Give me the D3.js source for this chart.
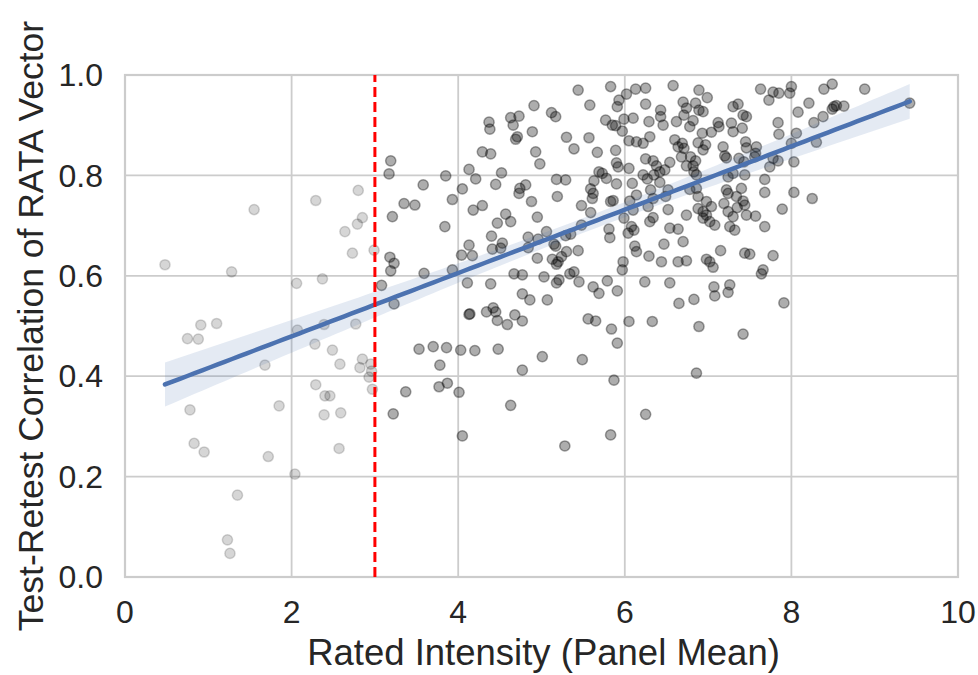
<!DOCTYPE html>
<html>
<head>
<meta charset="utf-8">
<script src="https://cdn.jsdelivr.net/npm/d3@7"></script>
<style>
  body { margin: 0; background: #fff; }
  text { font-family: "Liberation Sans", Arial, sans-serif; fill: #262626; }
</style>
</head>
<body>
<div id="chart"></div>
<script>
// points below the intensity cut-off (drawn faded)
var lowX = [0.48,1.55,1.28,2.29,2.80,2.85,2.79,2.64,2.73,2.99,2.06,2.37,0.91,1.10,0.75,0.88,2.07,2.39,2.77,2.28,
            2.49,2.58,2.85,2.82,2.95,2.96,2.93,2.97,1.68,2.29,2.40,2.46,2.39,2.59,1.85,0.78,0.83,0.95,1.72,2.57,
            2.04,1.35,1.23,1.26];
var lowY = [0.622,0.732,0.608,0.750,0.770,0.716,0.703,0.688,0.645,0.651,0.585,0.594,0.502,0.505,0.475,0.474,0.492,0.503,0.504,0.464,
            0.452,0.424,0.434,0.417,0.424,0.410,0.398,0.374,0.422,0.383,0.361,0.361,0.323,0.327,0.341,0.333,0.266,0.249,0.240,0.256,
            0.205,0.163,0.074,0.047];

// points at or above the cut-off
var highX = [3.19,3.17,3.58,3.35,3.48,3.21,3.18,3.23,3.19,3.08,3.23,3.59,3.53,3.70,3.37,3.22,3.77,3.78,
             4.11,4.39,4.67,4.77,5.03,5.18,5.21,4.77,4.86,5.07,4.13,4.14,4.34,4.42,4.45,4.47,4.59,4.68,4.77,3.86,4.03,4.20,4.48,5.01,4.77,3.87,4.01,4.63,4.05,5.28,5.34,
             5.44,5.83,6.02,6.13,5.93,5.91,5.58,4.91,5.12,5.17,4.63,4.73,4.37,4.38,4.66,5.77,5.85,5.89,5.99,6.10,5.97,4.89,4.71,4.69,5.30,5.57,6.05,6.14,5.39,5.67,
             5.89,4.29,4.39,4.93,4.98,5.90,5.92,6.05,3.85,4.13,4.21,4.52,4.45,4.05,3.93,4.74,4.73,4.81,5.18,5.29,5.69,5.73,5.63,5.78,5.90,6.09,5.59,5.62,5.61,5.19,
             4.88,5.48,5.83,5.86,6.06,6.14,4.18,4.29,4.57,4.95,5.59,5.99,6.10,3.84,4.47,4.63,5.06,5.48,5.81,5.82,6.08,6.11,6.04,4.40,4.84,4.96,5.29,5.35,5.15,4.13,
             4.04,4.17,4.53,4.51,4.41,4.84,5.17,5.44,5.30,6.12,6.14,4.95,5.13,5.20,5.18,5.24,3.93,5.39,5.98,5.97,
             6.58,6.25,6.89,6.99,6.25,6.70,6.85,6.89,6.94,6.74,7.30,7.36,7.42,7.46,6.43,6.43,6.46,6.29,6.71,6.62,6.82,6.78,7.12,7.13,7.28,7.30,7.04,6.93,7.41,6.30,
             6.22,6.60,6.69,6.71,6.64,6.88,6.97,6.94,7.18,7.45,7.46,6.25,6.34,6.38,6.54,6.68,6.79,6.85,6.82,6.74,7.20,7.22,7.37,7.43,6.22,6.35,6.42,6.48,6.27,6.42,
             6.86,6.83,7.30,7.24,7.44,6.31,6.34,6.52,6.49,6.78,6.86,7.22,7.24,7.40,7.34,6.88,6.28,6.52,6.34,6.30,6.74,6.88,6.94,6.98,7.04,6.98,6.94,7.02,7.19,7.24,
             7.30,7.42,7.44,7.35,7.46,7.26,7.32,6.54,6.64,7.08,6.47,6.70,6.29,6.64,6.74,6.98,7.02,7.15,7.44,6.44,
             7.63,7.78,7.85,7.98,8.00,8.39,8.49,8.88,7.73,8.21,8.51,8.54,8.63,8.49,8.08,8.38,8.27,7.84,7.85,8.06,9.42,8.30,8.00,7.58,7.57,7.56,7.78,7.84,8.03,7.74,
             7.68,7.68,8.03,8.25,7.89,7.57,7.68,7.50,7.78,
             5.45,5.62,5.69,5.79,5.91,6.24,6.54,7.06,7.07,7.08,7.26,7.24,6.65,6.83,5.56,5.65,5.84,6.05,6.33,6.89,7.42,5.91,5.49,5.87,6.86,6.25,5.83,
             7.66,7.64,7.91];
var highY = [0.829,0.803,0.781,0.744,0.741,0.718,0.637,0.625,0.610,0.581,0.544,0.605,0.454,0.459,0.369,0.325,0.379,0.422,
             0.586,0.584,0.604,0.602,0.598,0.586,0.592,0.564,0.552,0.552,0.523,0.524,0.528,0.536,0.528,0.511,0.503,0.522,0.510,0.457,0.452,0.451,0.454,0.439,0.412,0.386,0.368,0.342,0.281,0.261,0.604,
             0.970,0.977,0.962,0.972,0.950,0.937,0.940,0.939,0.925,0.917,0.915,0.918,0.906,0.892,0.900,0.910,0.900,0.899,0.912,0.914,0.888,0.887,0.877,0.872,0.876,0.875,0.869,0.867,0.853,0.846,
             0.850,0.847,0.843,0.847,0.823,0.825,0.817,0.814,0.799,0.812,0.793,0.805,0.782,0.773,0.752,0.774,0.764,0.781,0.792,0.791,0.807,0.804,0.789,0.794,0.783,0.784,0.773,0.764,0.754,0.758,
             0.748,0.740,0.748,0.750,0.749,0.761,0.731,0.740,0.723,0.717,0.726,0.715,0.731,0.698,0.705,0.708,0.688,0.701,0.693,0.676,0.698,0.691,0.685,0.679,0.677,0.673,0.680,0.683,0.663,0.661,
             0.641,0.640,0.665,0.655,0.653,0.656,0.659,0.650,0.648,0.659,0.648,0.635,0.633,0.628,0.623,0.638,0.612,0.608,0.628,0.612,
             0.979,0.974,0.970,0.955,0.942,0.946,0.944,0.930,0.927,0.934,0.937,0.942,0.920,0.917,0.930,0.917,0.900,0.907,0.920,0.907,0.909,0.897,0.905,0.897,0.904,0.887,0.886,0.884,0.894,0.877,
             0.864,0.871,0.864,0.854,0.857,0.865,0.861,0.851,0.857,0.867,0.855,0.833,0.829,0.819,0.826,0.837,0.837,0.829,0.819,0.819,0.839,0.835,0.834,0.827,0.801,0.801,0.807,0.811,0.793,0.786,
             0.801,0.807,0.804,0.797,0.801,0.771,0.754,0.771,0.758,0.772,0.774,0.771,0.764,0.774,0.758,0.758,0.738,0.732,0.716,0.708,0.721,0.734,0.728,0.748,0.738,0.721,0.715,0.708,0.744,0.728,
             0.718,0.749,0.741,0.736,0.721,0.698,0.691,0.695,0.693,0.701,0.663,0.668,0.639,0.628,0.630,0.633,0.628,0.650,0.645,0.628,
             0.972,0.966,0.964,0.964,0.977,0.972,0.982,0.972,0.950,0.944,0.937,0.939,0.938,0.932,0.926,0.917,0.905,0.905,0.882,0.884,0.944,0.866,0.864,0.857,0.844,0.837,0.834,0.829,0.827,0.817,
             0.792,0.766,0.766,0.754,0.733,0.719,0.698,0.643,0.640,
             0.588,0.578,0.565,0.590,0.570,0.588,0.586,0.617,0.578,0.560,0.582,0.567,0.545,0.553,0.514,0.510,0.494,0.509,0.509,0.499,0.484,0.466,0.433,0.392,0.406,0.324,0.283,
             0.612,0.604,0.546];

var xTicks = [0, 2, 4, 6, 8, 10];
var yTicks = [0.0, 0.2, 0.4, 0.6, 0.8, 1.0];
var cutoff = 3;

var width = 978, height = 675;
var margin = {left: 125, right: 20, top: 75, bottom: 98};

var svg = d3.select("#chart")
  .append("svg")
  .attr("width", width)
  .attr("height", height);

var x = d3.scaleLinear().domain([0, 10]).range([margin.left, width - margin.right]);
var y = d3.scaleLinear().domain([0, 1]).range([height - margin.bottom, margin.top]);

// grid
svg.append("g").selectAll("line")
  .data(xTicks).enter().append("line")
  .attr("x1", function(d) { return x(d); })
  .attr("x2", function(d) { return x(d); })
  .attr("y1", y(0)).attr("y2", y(1))
  .attr("stroke", "#cccccc").attr("stroke-width", 1.8);
svg.append("g").selectAll("line")
  .data(yTicks).enter().append("line")
  .attr("y1", function(d) { return y(d); })
  .attr("y2", function(d) { return y(d); })
  .attr("x1", x(0)).attr("x2", x(10))
  .attr("stroke", "#cccccc").attr("stroke-width", 1.8);

// frame
svg.append("rect")
  .attr("x", x(0)).attr("y", y(1))
  .attr("width", x(10) - x(0)).attr("height", y(0) - y(1))
  .attr("fill", "none").attr("stroke", "#cccccc").attr("stroke-width", 2.2);

// scatter
var low = lowX.map(function(d, i) { return {x: d, y: lowY[i]}; });
var high = highX.map(function(d, i) { return {x: d, y: highY[i]}; });

svg.append("g").selectAll("circle")
  .data(low).enter().append("circle")
  .attr("cx", function(d) { return x(d.x); })
  .attr("cy", function(d) { return y(d.y); })
  .attr("r", 5.1)
  .attr("fill", "#000").attr("fill-opacity", 0.16)
  .attr("stroke", "#000").attr("stroke-opacity", 0.16).attr("stroke-width", 1.5);

svg.append("g").selectAll("circle")
  .data(high).enter().append("circle")
  .attr("cx", function(d) { return x(d.x); })
  .attr("cy", function(d) { return y(d.y); })
  .attr("r", 5.1)
  .attr("fill", "#000").attr("fill-opacity", 0.32)
  .attr("stroke", "#000").attr("stroke-opacity", 0.36).attr("stroke-width", 1.5);

// linear fit over all points + 95% band
var all = low.concat(high);
var n = all.length;
var mx = d3.mean(all, function(d) { return d.x; });
var my = d3.mean(all, function(d) { return d.y; });
var sxx = d3.sum(all, function(d) { return (d.x - mx) * (d.x - mx); });
var sxy = d3.sum(all, function(d) { return (d.x - mx) * (d.y - my); });
var slope = sxy / sxx;
var icpt = my - slope * mx;
var sse = d3.sum(all, function(d) { var r = d.y - (icpt + slope * d.x); return r * r; });
var se = Math.sqrt(sse / (n - 2));
var xmin = d3.min(all, function(d) { return d.x; });
var xmax = d3.max(all, function(d) { return d.x; });
var grid = d3.range(0, 101).map(function(i) {
  var gx = xmin + (xmax - xmin) * i / 100;
  var fit = icpt + slope * gx;
  var h = 1.97 * se * Math.sqrt(1 / n + (gx - mx) * (gx - mx) / sxx);
  return {x: gx, fit: fit, lo: fit - h, hi: fit + h};
});

svg.append("path")
  .datum(grid)
  .attr("fill", "#4c72b0").attr("fill-opacity", 0.15)
  .attr("d", d3.area()
    .x(function(d) { return x(d.x); })
    .y0(function(d) { return y(d.lo); })
    .y1(function(d) { return y(d.hi); }));

svg.append("path")
  .datum(grid)
  .attr("fill", "none").attr("stroke", "#4c72b0")
  .attr("stroke-width", 4.5).attr("stroke-linecap", "round")
  .attr("d", d3.line()
    .x(function(d) { return x(d.x); })
    .y(function(d) { return y(d.fit); }));

// cut-off
svg.append("line")
  .attr("x1", x(cutoff)).attr("x2", x(cutoff))
  .attr("y1", y(0)).attr("y2", y(1))
  .attr("stroke", "red").attr("stroke-width", 3)
  .attr("stroke-dasharray", "10,5");

// tick labels
svg.append("g").selectAll("text")
  .data(xTicks).enter().append("text")
  .attr("x", function(d) { return x(d); })
  .attr("y", y(0) + 46)
  .attr("text-anchor", "middle")
  .attr("font-size", 32)
  .text(function(d) { return d; });

svg.append("g").selectAll("text")
  .data(yTicks).enter().append("text")
  .attr("x", x(0) - 22)
  .attr("y", function(d) { return y(d); })
  .attr("dy", "0.35em")
  .attr("text-anchor", "end")
  .attr("font-size", 32)
  .text(function(d) { return d.toFixed(1); });

// axis titles
svg.append("text")
  .attr("x", (x(0) + x(10)) / 2 + 2)
  .attr("y", 665)
  .attr("text-anchor", "middle")
  .attr("font-size", 36.5)
  .text("Rated Intensity (Panel Mean)");

svg.append("text")
  .attr("transform", "translate(43," + (y(0) + y(1)) / 2 + ") rotate(-90)")
  .attr("text-anchor", "middle")
  .attr("font-size", 35.5)
  .text("Test-Retest Correlation of RATA Vector");
</script>
</body>
</html>
